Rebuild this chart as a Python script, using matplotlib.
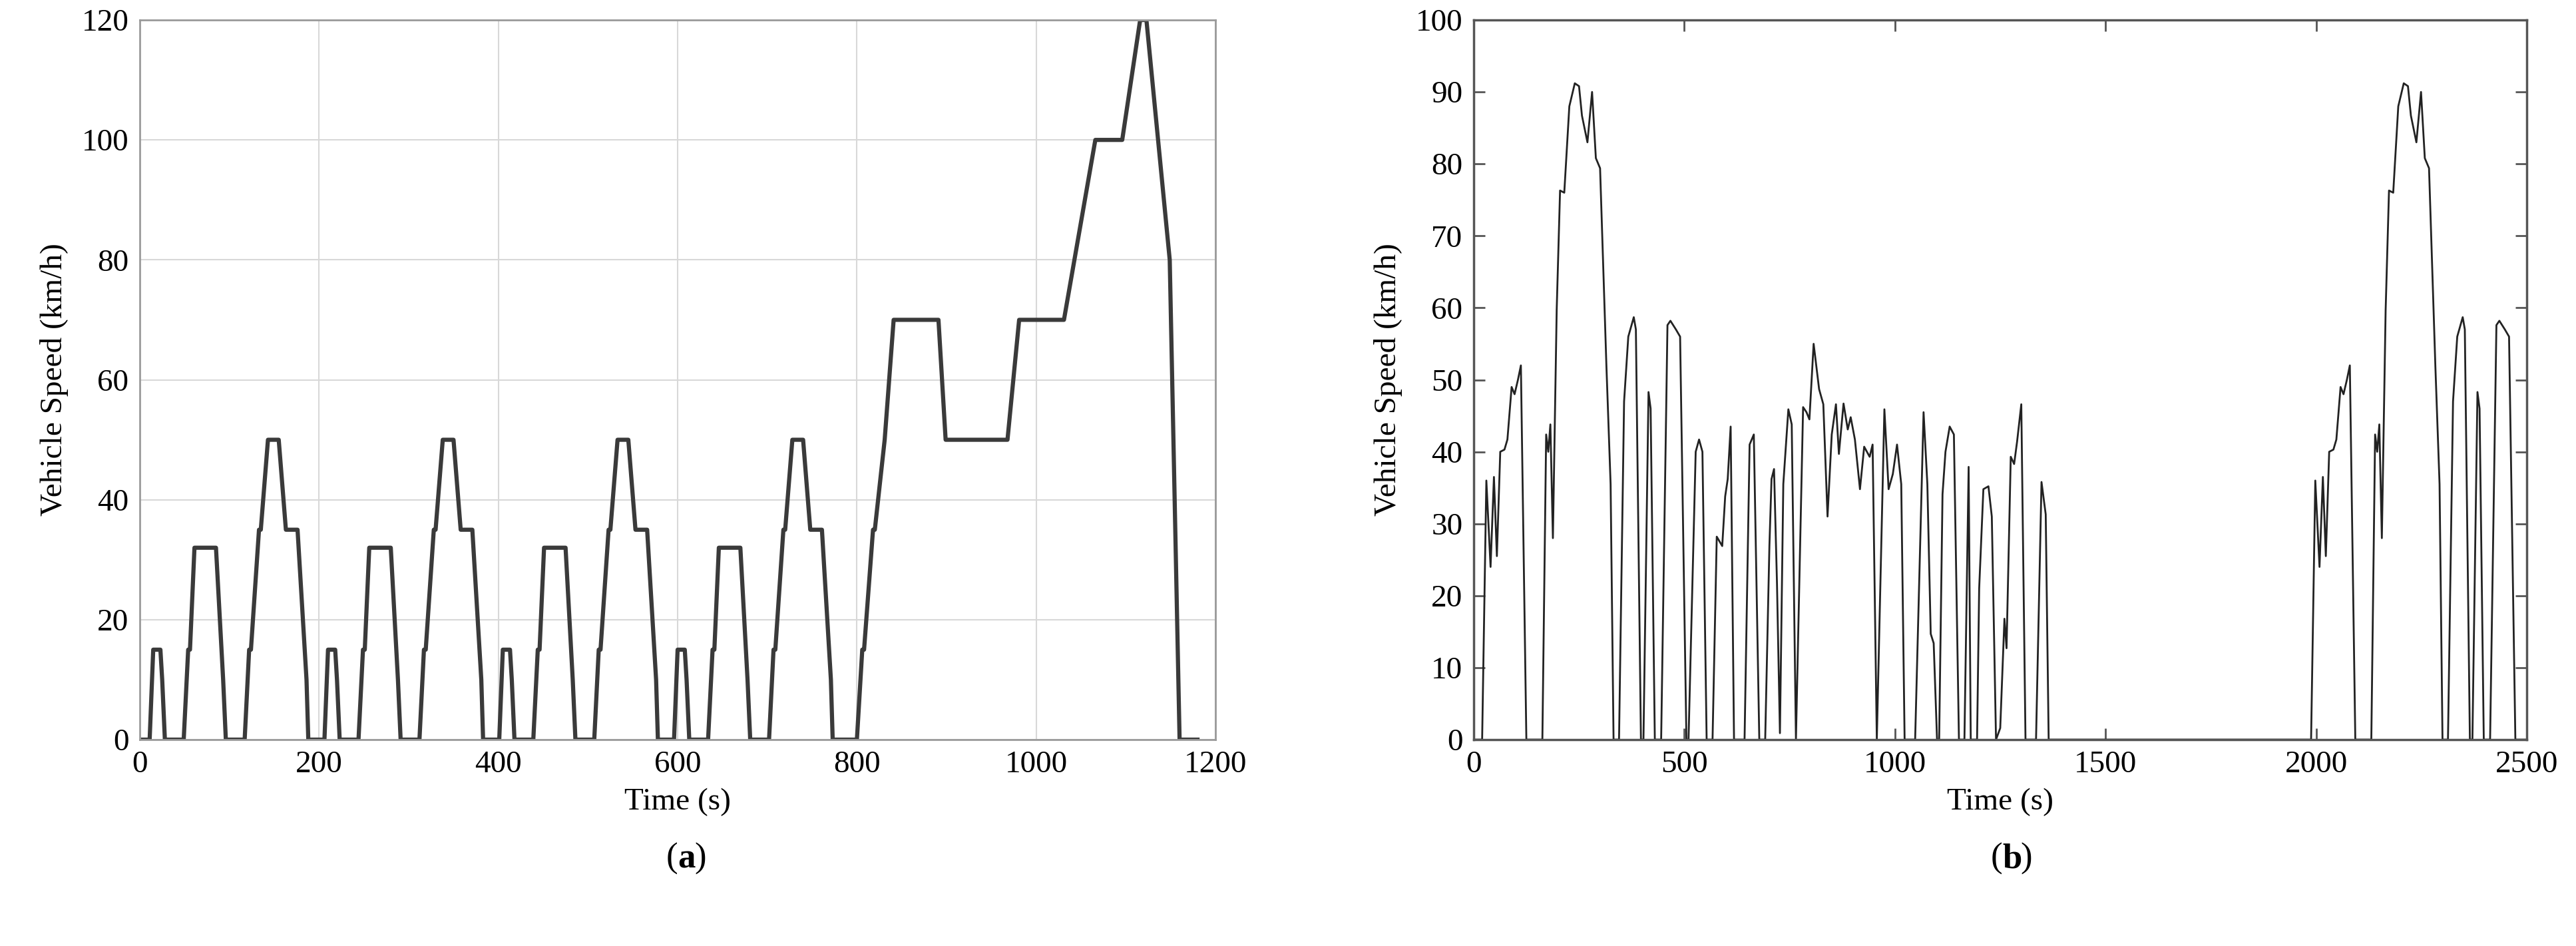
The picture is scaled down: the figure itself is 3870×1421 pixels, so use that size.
import matplotlib
matplotlib.use("Agg")
import matplotlib.pyplot as plt

# (a) NEDC breakpoints
ece_t = [0, 11, 15, 23, 25, 28, 49, 54, 56, 61, 85, 93, 96, 117, 122, 124, 133, 135, 143, 155, 163, 176, 186, 188, 195]
ece_v = [0, 0, 15, 15, 10, 0, 0, 15, 15, 32, 32, 10, 0, 0, 15, 15, 35, 35, 50, 50, 35, 35, 10, 0, 0]
eudc_t = [780, 800, 806, 808, 818, 820, 831, 841, 891, 899, 968, 981, 1031, 1066, 1096, 1116, 1123, 1149, 1160, 1180]
eudc_v = [0, 0, 15, 15, 35, 35, 50, 70, 70, 50, 50, 70, 70, 100, 100, 120, 120, 80, 0, 0]

# (b) custom cycle breakpoints
b_t = [0, 20, 30, 40, 48, 55, 63, 73, 80, 90, 97, 105, 112, 125, 163, 172, 177, 182, 188, 197, 205, 215, 227, 240, 250,
       257, 270, 281, 290, 300, 315, 325, 332, 345, 357, 367, 380, 385, 397, 403, 415, 420, 430, 445, 460, 467, 480, 490,
       505, 510, 527, 535, 543, 553, 567, 577, 590, 597, 603, 610, 618, 643, 655, 665, 678, 692, 702, 707, 713, 720, 727,
       735, 747, 755, 765, 782, 790, 797, 807, 820, 830, 840, 850, 860, 867, 878, 888, 895, 905, 917, 927, 940, 947, 957,
       975, 985, 995, 1005, 1015, 1023, 1048, 1068, 1077, 1085, 1092, 1100, 1105, 1113, 1120, 1130, 1140, 1152, 1165,
       1175, 1180, 1195, 1200, 1210, 1222, 1230, 1240, 1250, 1260, 1265, 1275, 1283, 1290, 1300, 1310, 1335, 1348, 1358,
       1365, 1988,
       1998, 2008, 2016, 2023, 2031, 2041, 2048, 2058, 2065, 2073, 2080, 2093, 2131, 2140, 2145, 2150, 2156, 2165, 2173,
       2183, 2195, 2208, 2218, 2225, 2238, 2249, 2258, 2268, 2283, 2293, 2300, 2313, 2325, 2335, 2348, 2353, 2365, 2371,
       2383, 2388, 2398, 2413, 2428, 2435, 2448, 2458, 2473, 2500]
b_v = [0, 0, 36, 24, 36.5, 25.5, 40, 40.3, 41.7, 49, 48, 50, 52, 0, 0, 42.4, 40, 43.8, 28, 59.7, 76.3, 76, 88, 91.2, 90.8,
       86.7, 83, 90, 80.8, 79.4, 52, 35.5, 0, 0, 47, 56, 58.7, 57, 0, 0, 48.3, 46, 0, 0, 57.6, 58.2, 57, 56,
       0, 0, 40, 41.7, 40, 0, 0, 28.2, 26.9, 33.8, 36.2, 43.5, 0, 0, 41, 42.4, 0, 0, 26.9, 36.2, 37.6, 21.7, 0.9,
       35.5, 45.9, 43.8, 0, 46.2, 45.5, 44.5, 55, 48.7, 46.6, 31, 42.4, 46.6, 39.7, 46.7, 43.1, 44.8, 41.7, 34.8, 40.7, 39.3, 41, 0,
       45.9, 34.8, 36.9, 41, 35.5, 0, 0, 45.5, 35.5, 14.7, 13.4, 0, 0, 34.1, 40, 43.5, 42.4, 0, 0,
       37.9, 0, 0, 21, 34.8, 35.2, 31, 0, 1.6, 16.8, 12.7, 39.3, 38.3, 41.4, 46.6, 0, 0, 35.8, 31.3,
       0, 0,
       36, 24, 36.5, 25.5, 40, 40.3, 41.7, 49, 48, 50, 52, 0, 0, 42.4, 40, 43.8, 28, 59.7, 76.3,
       76, 88, 91.2, 90.8, 86.7, 83, 90, 80.8, 79.4, 52, 35.5, 0, 0, 47, 56, 58.7, 57, 0, 0,
       48.3, 46, 0, 0, 57.6, 58.2, 57, 56, 0, 0]

# build NEDC
a_t, a_v = [], []
for k in range(4):
    for t, v in zip(ece_t, ece_v):
        a_t.append(t + 195 * k); a_v.append(v)
a_t += eudc_t; a_v += eudc_v

W, H = 3870, 1421
fig = plt.figure(figsize=(W / 100, H / 100), dpi=100)
serif = ["Liberation Serif", "DejaVu Serif"]
fs = 34

ax1 = fig.add_axes([210 / W, 1 - 1111 / H, (1826 - 210) / W, (1111 - 30) / H])
ax1.plot(a_t, a_v, color="#3a3a3a", lw=4.5)
ax1.set_xlim(0, 1200); ax1.set_ylim(0, 120)
ax1.set_xticks(range(0, 1201, 200)); ax1.set_yticks(range(0, 121, 20))
ax1.grid(True, color="#d8d8d8", lw=1.5)
ax1.tick_params(length=0, labelsize=fs, pad=12)
for s in ax1.spines.values():
    s.set_color("#9a9a9a"); s.set_linewidth(2)
ax1.set_xlabel("Time (s)", fontsize=fs, labelpad=10)
ax1.set_ylabel("Vehicle Speed (km/h)", fontsize=fs, labelpad=14)
for lab in ax1.get_xticklabels() + ax1.get_yticklabels():
    lab.set_family(serif)
ax1.xaxis.label.set_family(serif); ax1.yaxis.label.set_family(serif)

ax2 = fig.add_axes([2214 / W, 1 - 1111 / H, (3796 - 2214) / W, (1111 - 30) / H])
ax2.plot(b_t, b_v, color="#222222", lw=2)
ax2.set_xlim(0, 2500); ax2.set_ylim(0, 100)
ax2.set_xticks(range(0, 2501, 500)); ax2.set_yticks(range(0, 101, 10))
ax2.tick_params(direction="in", length=12, width=2, labelsize=fs, pad=12,
                top=True, right=True, color="#555555")
for s in ax2.spines.values():
    s.set_color("#555555"); s.set_linewidth(2.5)
ax2.set_xlabel("Time (s)", fontsize=fs, labelpad=10)
ax2.set_ylabel("Vehicle Speed (km/h)", fontsize=fs, labelpad=14)
for lab in ax2.get_xticklabels() + ax2.get_yticklabels():
    lab.set_family(serif)
ax2.xaxis.label.set_family(serif); ax2.yaxis.label.set_family(serif)

fig.text(1018 / W, 1 - 1290 / H, "(", fontsize=fs + 4, family=serif, ha="right", va="center")
fig.text(1018 / W, 1 - 1290 / H, "a", fontsize=fs + 4, family=serif, weight="bold", ha="left", va="center")
fig.text(1043 / W, 1 - 1290 / H, ")", fontsize=fs + 4, family=serif, ha="left", va="center")
fig.text(3008 / W, 1 - 1290 / H, "(", fontsize=fs + 4, family=serif, ha="right", va="center")
fig.text(3008 / W, 1 - 1290 / H, "b", fontsize=fs + 4, family=serif, weight="bold", ha="left", va="center")
fig.text(3035 / W, 1 - 1290 / H, ")", fontsize=fs + 4, family=serif, ha="left", va="center")

fig.savefig("out.png", dpi=100)
